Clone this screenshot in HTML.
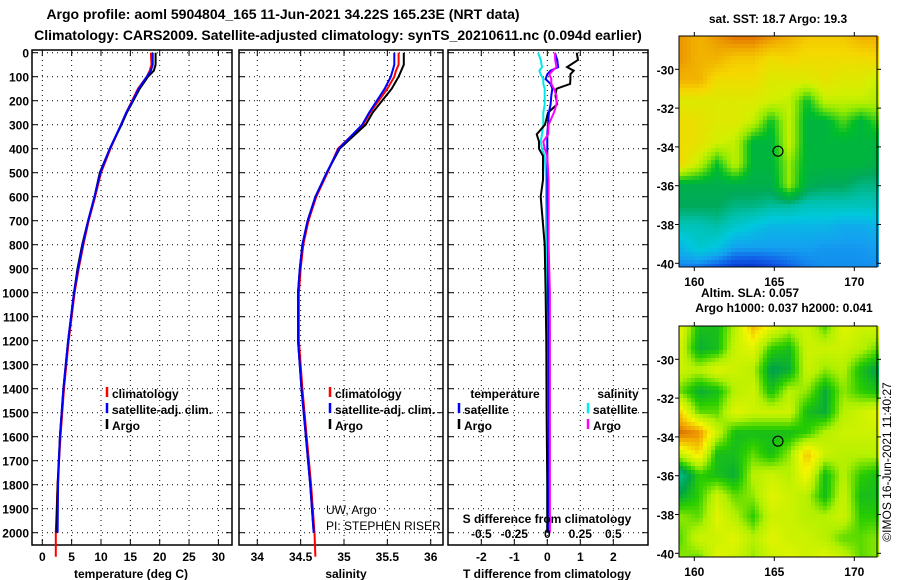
<!DOCTYPE html>
<html><head><meta charset="utf-8"><style>
body{margin:0;background:#fff;}
svg{display:block;font-family:"Liberation Sans",sans-serif;font-weight:bold;}
</style></head><body>
<svg id="c" width="900" height="580" viewBox="0 0 900 580" xmlns="http://www.w3.org/2000/svg">
<text x="283" y="19" font-size="14" text-anchor="middle">Argo profile: aoml 5904804_165 11-Jun-2021 34.22S 165.23E (NRT data)</text>
<text x="338" y="40" font-size="14" text-anchor="middle">Climatology: CARS2009. Satellite-adjusted climatology: synTS_20210611.nc (0.094d earlier)</text>
<g id="g"></g>
</svg>
<script>
// ---- data ----
const depths=[0,50,75,100,150,200,250,300,400,500,600,700,800,900,1000,1200,1400,1600,1800,2000];
const climDepths=[0,50,75,100,150,200,250,300,400,500,600,700,800,900,1000,1200,1400,1600,1800,2000,2100];
const argoT=[19.3,19.3,19.0,18.0,16.6,15.5,14.4,13.5,11.5,9.8,8.9,7.8,6.8,6.0,5.4,4.4,3.6,3.0,2.6,2.4];
const climT=[18.5,18.6,18.3,17.8,16.3,15.3,14.3,13.4,11.6,10.0,9.0,7.9,7.0,6.2,5.5,4.5,3.7,3.1,2.6,2.3,2.3];
const satT=[18.8,18.8,18.5,17.8,16.4,15.4,14.3,13.4,11.5,9.9,8.9,7.8,6.9,6.1,5.4,4.4,3.6,3.0,2.7,2.6];
const argoS=[35.69,35.69,35.66,35.63,35.55,35.44,35.33,35.25,34.95,34.8,34.67,34.58,34.52,34.49,34.47,34.47,34.51,34.56,34.61,34.65];
const climS=[35.63,35.63,35.6,35.58,35.5,35.4,35.3,35.22,34.93,34.81,34.68,34.59,34.53,34.5,34.48,34.48,34.52,34.57,34.62,34.66,34.67];
const satS=[35.58,35.58,35.56,35.54,35.47,35.38,35.29,35.21,34.94,34.8,34.67,34.58,34.52,34.49,34.47,34.47,34.51,34.56,34.61,34.65];
const diffDepths=[0,30,60,75,90,110,130,150,180,215,250,300,340,370,400,430,530,600,800,1000,1200,1500,1800,2000];
const tdiffArgo=[0.89,0.93,0.6,0.8,0.7,0.7,0.69,0.28,0.25,0.3,0.02,-0.07,-0.32,-0.25,-0.25,-0.13,-0.13,-0.2,-0.08,-0.05,-0.03,-0.02,0,0];
const tdiffSat=[0.23,0.3,0.33,0.1,0,-0.05,0.1,0.15,0.12,0.1,0.05,0.02,0,0,0,0,0,0,0.02,0.02,0.04,0.05,0.05,0.05];
const sdiffArgo=[0.058,0.06,0.07,0.04,0.015,0.03,0.03,0.05,0.07,0.07,0.05,0.01,0.007,-0.03,-0.02,0,0.01,0.01,0.01,0.02,0.02,0.02,0.02,0.02];
const sdiffSat=[-0.07,-0.05,-0.04,-0.06,-0.05,-0.03,-0.03,-0.02,-0.02,-0.02,-0.03,-0.03,-0.04,-0.05,-0.04,-0.02,-0.01,-0.01,-0.01,0,0,0,0,0];
const depthTicks=[0,100,200,300,400,500,600,700,800,900,1000,1100,1200,1300,1400,1500,1600,1700,1800,1900,2000];
const tTicks=[0,5,10,15,20,25,30];
const sTicks=[34,34.5,35,35.5,36];
const tdTicks=[-2,-1,0,1,2];
const sdTicks=[-0.5,-0.25,0,0.25,0.5];
const latTicks=[-30,-32,-34,-36,-38,-40];
const lonTicks=[160,165,170];
const sstGrid=[
[.85,.8,.85,.9,.9,.85,.8,.75,.75,.75,.8,.8],
[.85,.8,.8,.75,.75,.7,.72,.7,.7,.7,.7,.72],
[.8,.8,.7,.7,.7,.65,.65,.65,.68,.65,.65,.6],
[.65,.65,.65,.65,.65,.62,.6,.45,.6,.6,.6,.58],
[.7,.68,.65,.65,.6,.45,.6,.42,.42,.5,.42,.5],
[.7,.68,.62,.6,.42,.42,.6,.42,.42,.42,.42,.42],
[.7,.6,.45,.6,.42,.42,.55,.42,.42,.42,.42,.4],
[.4,.4,.4,.4,.4,.4,.55,.4,.38,.38,.35,.35],
[.38,.38,.38,.35,.35,.33,.33,.3,.3,.3,.3,.3],
[.3,.3,.32,.28,.25,.22,.22,.22,.22,.2,.2,.22],
[.22,.28,.25,.18,.18,.18,.18,.18,.17,.17,.17,.18],
[.14,.12,.08,.04,.03,.06,.1,.14,.16,.16,.16,.16]];
const slaGrid=[
[.6,.3,.3,.5,.75,.6,.5,.55,.4,.6,.55,.55],
[.55,.25,.3,.55,.6,.35,.3,.55,.55,.55,.5,.4],
[.55,.5,.6,.55,.5,.2,.25,.55,.45,.5,.3,.2],
[.4,.25,.3,.5,.55,.3,.5,.45,.25,.45,.35,.3],
[.7,.4,.4,.6,.55,.55,.55,.3,.25,.5,.55,.6],
[.9,.85,.55,.3,.3,.3,.3,.35,.5,.55,.55,.55],
[.55,.7,.3,.3,.4,.3,.45,.75,.55,.5,.5,.5],
[.1,.35,.3,.25,.5,.55,.5,.65,.3,.5,.35,.3],
[.25,.35,.55,.4,.45,.6,.55,.5,.3,.55,.3,.3],
[.45,.4,.6,.5,.35,.55,.55,.5,.5,.55,.35,.35],
[.4,.55,.55,.6,.5,.6,.55,.55,.5,.4,.4,.45],
[.45,.4,.6,.55,.45,.55,.6,.55,.6,.55,.4,.45]];
const floatLon=165.23, floatLat=-34.22;

// ---- helpers ----
const NS='http://www.w3.org/2000/svg';
const G=document.getElementById('g');
function el(t,a,p){const e=document.createElementNS(NS,t);for(const k in a)e.setAttribute(k,a[k]);(p||G).appendChild(e);return e;}
function txt(x,y,s,size,anchor,p){const e=el('text',{x:x,y:y,'font-size':size,'text-anchor':anchor||'middle'},p);e.textContent=s;return e;}
const yD=d=>52.7+d*0.24;
const PT=50, PB=545;

function panel(name,x0,x1,xf,ticks,fmt,labelsY){
  const g=el('g',{});
  
  
  for(const d of depthTicks){el('line',{x1:x0,x2:x1,y1:yD(d),y2:yD(d),stroke:'#000','stroke-dasharray':'1 4','stroke-width':1},g);
    el('line',{x1:x0,x2:x0+6,y1:yD(d),y2:yD(d),stroke:'#000'},g);el('line',{x1:x1-6,x2:x1,y1:yD(d),y2:yD(d),stroke:'#000'},g);}
  for(const t of ticks){const x=xf(t);el('line',{x1:x,x2:x,y1:PT,y2:PB,stroke:'#000','stroke-dasharray':'1 4'},g);
    el('line',{x1:x,x2:x,y1:PT,y2:PT+6,stroke:'#000'},g);el('line',{x1:x,x2:x,y1:PB-6,y2:PB,stroke:'#000'},g);
    if(labelsY){const l=txt(x,labelsY,fmt(t),12,'middle',g);}}
  el('rect',{x:x0,y:PT,width:x1-x0,height:PB-PT,fill:'none',stroke:'#000','stroke-width':1.5},g);
  return g;
}
function line(g,xs,ds,xf,col,name){
  const pts=xs.map((v,i)=>xf(v).toFixed(1)+','+yD(ds[i]).toFixed(1)).join(' ');
  const p=el('polyline',{points:pts,fill:'none',stroke:col,'stroke-width':2},g);
  
  
}
function legend(g,x,y,col,label){
  el('line',{x1:x,x2:x,y1:y-11,y2:y-1,stroke:col,'stroke-width':2.5},g);
  const t=txt(x+5,y,label,12,'start',g);
}

// ---- panel 1: temperature ----
const xT=v=>42.3+v*5.87;
const p1=panel('temperature-panel',32,232,xT,tTicks,v=>String(v),561);
for(const d of depthTicks){const l=txt(29,yD(d)+5,String(d),12,'end',p1);}
line(p1,climT,climDepths,xT,'#ff0000','temp-climatology-line');
line(p1,argoT,depths,xT,'#000','temp-argo-line');
line(p1,satT,depths,xT,'#0000ff','temp-satellite-line');
legend(p1,107,398,'#f00','climatology');legend(p1,107,414,'#00f','satellite-adj. clim.');legend(p1,107,430,'#000','Argo');
txt(131,578,'temperature (deg C)',12,'middle',p1);

// ---- panel 2: salinity ----
const xS=v=>257.3+(v-34)*86.7;
const p2=panel('salinity-panel',239,443,xS,sTicks,v=>String(v),561);
line(p2,climS,climDepths,xS,'#ff0000','sal-climatology-line');
line(p2,argoS,depths,xS,'#000','sal-argo-line');
line(p2,satS,depths,xS,'#0000ff','sal-satellite-line');
legend(p2,330,398,'#f00','climatology');legend(p2,330,414,'#00f','satellite-adj. clim.');legend(p2,330,430,'#000','Argo');
const pi1=txt(326,514,'UW, Argo',12,'start',p2);pi1.setAttribute('font-weight','normal');
const pi2=txt(326,530,'PI: STEPHEN RISER',12,'start',p2);pi2.setAttribute('font-weight','normal');
txt(346,578,'salinity',12,'middle',p2);

// ---- panel 3: differences ----
const xTD=v=>547.3+v*33;
const xSD=v=>547.3+v*132;
const p3=panel('difference-panel',448,648,xTD,tdTicks,v=>String(v),561);
line(p3,sdiffSat,diffDepths,xSD,'#00e8e8','sdiff-satellite-line');
line(p3,tdiffArgo,diffDepths,xTD,'#000','tdiff-argo-line');
line(p3,tdiffSat,diffDepths,xTD,'#0000ff','tdiff-satellite-line');
line(p3,sdiffArgo,diffDepths,xSD,'#ff00ff','sdiff-argo-line');
txt(505,398,'temperature',12,'middle',p3);
legend(p3,459,414,'#00f','satellite');legend(p3,459,430,'#000','Argo');
txt(618,398,'salinity',12,'middle',p3);
legend(p3,588,414,'#0ee','satellite');legend(p3,588,430,'#f0f','Argo');
txt(547,523,'S difference from climatology',12,'middle',p3);
for(const s of sdTicks){const l=txt(xSD(s),538,String(s),12,'middle',p3);}
txt(547,578,'T difference from climatology',12,'middle',p3);

// ---- maps ----
function cmapSST(v){const s=[[0,[0,32,190]],[.1,[16,90,230]],[.18,[20,160,240]],[.26,[0,200,220]],[.32,[0,192,170]],[.38,[0,170,90]],[.45,[0,190,40]],[.55,[150,235,0]],[.62,[210,240,0]],[.72,[245,215,0]],[.82,[240,170,0]],[.92,[225,110,0]],[1,[200,80,0]]];return interp(s,v);}
function cmapSLA(v){const s=[[0,[0,200,190]],[.22,[0,165,70]],[.35,[40,205,0]],[.48,[175,240,0]],[.65,[245,245,0]],[.82,[240,160,0]],[1,[190,60,0]]];return interp(s,v);}
function interp(s,v){v=Math.max(0,Math.min(1,v));for(let i=1;i<s.length;i++)if(v<=s[i][0]){const f=(v-s[i-1][0])/(s[i][0]-s[i-1][0]);const a=s[i-1][1],b=s[i][1];return 'rgb('+a.map((c,k)=>Math.round(c+(b[k]-c)*f)).join(',')+')';}return 'rgb('+s[s.length-1][1].join(',')+')';}
function bilin(gr,r,c){const R=gr.length-1,C=gr[0].length-1;r=Math.max(0,Math.min(R,r));c=Math.max(0,Math.min(C,c));const r0=Math.floor(r),c0=Math.floor(c),r1=Math.min(R,r0+1),c1=Math.min(C,c0+1),fr=r-r0,fc=c-c0;
 return gr[r0][c0]*(1-fr)*(1-fc)+gr[r0][c1]*(1-fr)*fc+gr[r1][c0]*fr*(1-fc)+gr[r1][c1]*fr*fc;}
function map(name,y0,grid,cmap){
  const g=el('g',{});
  
  
  const x0=679,x1=877,y1=y0+231,cs=4;
  const lonX=l=>694.3+(l-160)*16, latY=l=>y0+33.3+(-30-l)*19.4;
  for(let y=y0;y<y1;y+=cs)for(let x=x0;x<x1;x+=cs){
    const r=(y-y0)/(y1-y0)*(grid.length-1), c=(x-x0)/(x1-x0)*(grid[0].length-1);
    el('rect',{x:x,y:y,width:cs,height:Math.min(cs,y1-y),fill:cmap(bilin(grid,r,c))},g);}
  el('rect',{x:x0,y:y0,width:x1-x0,height:y1-y0,fill:'none',stroke:'#000'},g);
  for(const l of latTicks){const y=latY(l);el('line',{x1:x0-4,x2:x0,y1:y,y2:y,stroke:'#000'},g);el('line',{x1:x1,x2:x1+4,y1:y,y2:y,stroke:'#000'},g);
    const t=txt(674,y+5,String(l),12,'end',g);}
  for(const l of lonTicks){const x=lonX(l);el('line',{x1:x,x2:x,y1:y0-4,y2:y0,stroke:'#000'},g);el('line',{x1:x,x2:x,y1:y1,y2:y1+4,stroke:'#000'},g);
    const t=txt(x,y1+19,String(l),12,'middle',g);}
  const m=el('circle',{cx:lonX(floatLon),cy:latY(floatLat),r:5,fill:'none',stroke:'#000','stroke-width':1.2},g);
  
  
  return g;
}
map('sst-map',36,sstGrid,cmapSST);
txt(778,23,'sat. SST: 18.7 Argo: 19.3',12,'middle');
map('sla-map',326,slaGrid,cmapSLA);
txt(750,297,'Altim. SLA: 0.057',12,'middle');
txt(784,312,'Argo h1000: 0.037 h2000: 0.041',12,'middle');
const cp=txt(0,0,'©IMOS 16-Jun-2021 11:40:27',12,'middle');
cp.setAttribute('font-weight','normal');
cp.setAttribute('transform','translate(891,462) rotate(-90)');


</script>
</body></html>
